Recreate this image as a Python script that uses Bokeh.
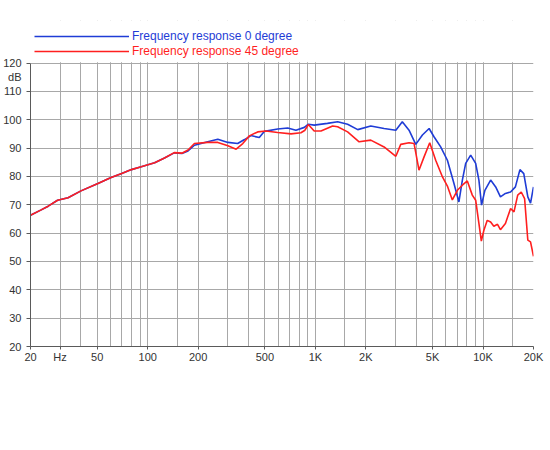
from bokeh.plotting import figure
from bokeh.models import FixedTicker, Range1d, Legend, LegendItem, ColumnDataSource, BoxAnnotation
from bokeh.embed import file_html
from bokeh.resources import INLINE

# ---- data ----
freq_0 = [20, 23, 25.5, 29, 33.5, 40, 50.5, 60.5, 70, 80, 91.5, 110, 126, 144, 160, 174, 190, 228, 262, 301,
          344, 378, 413, 463, 497, 596, 684, 766, 860, 908, 984, 1180, 1358, 1557, 1790, 2140, 2570, 3020, 3300, 3620,
          3970, 4350, 4770, 5100, 5590, 6130, 6710, 7180, 7530, 7880, 8440, 9040, 9450, 9800, 10260, 11100, 11900,
          12700, 13600, 14600, 15600, 16600, 17500, 18500, 19200, 20000]
db_0 = [66.3, 68.1, 69.5, 71.6, 72.5, 74.9, 77.5, 79.6, 81.0, 82.4, 83.4, 84.8, 86.5, 88.3, 88.1, 89.0, 91.0, 92.2, 93.1, 92.0,
        91.6, 93.0, 94.4, 93.7, 95.9, 96.7, 97.1, 96.3, 97.3, 98.4, 98.1, 98.7, 99.3, 98.4, 96.5, 97.8, 96.9, 96.3, 99.3, 96.3,
        91.3, 94.6, 96.9, 94.0, 90.4, 85.7, 77.5, 71.0, 78.7, 84.6, 87.5, 84.6, 78.7, 69.9, 75.1, 78.7, 76.3,
        72.8, 74.0, 74.5, 76.3, 82.4, 81.0, 72.8, 70.6, 76.3]

freq_45 = [20, 23, 25.5, 29, 33.5, 40, 50.5, 60.5, 70, 80, 91.5, 110, 126, 144, 160, 174, 190, 228, 262, 301,
           337, 369, 404, 453, 508, 596, 716, 820, 867, 908, 984, 1080, 1268, 1358, 1557, 1824, 2140, 2570, 3020, 3230,
           3620, 3880, 4150, 4450, 4810, 5220, 5730, 6130, 6560, 7030, 7530, 8060, 8630, 9040, 9450, 9770, 10120, 10600,
           11100, 11600, 12200, 12700, 13600, 14600, 15300, 16100, 16900, 17700, 18500, 19200, 20000]
db_45 = [66.3, 68.1, 69.5, 71.6, 72.5, 74.9, 77.5, 79.6, 81.0, 82.4, 83.4, 84.8, 86.5, 88.4, 88.2, 89.3, 91.6, 92.0, 92.0, 90.8,
         89.6, 91.6, 94.3, 95.7, 96.0, 95.5, 95.0, 95.4, 96.3, 98.3, 96.0, 96.0, 97.8, 97.5, 95.7, 92.2, 92.8, 90.4, 87.1, 91.3,
         91.9, 91.6, 82.2, 86.9, 91.9, 85.7, 79.8, 76.6, 71.7, 75.1, 76.9, 78.4, 73.4, 71.6, 63.4, 57.2, 61.0, 64.5,
         63.9, 62.4, 63.1, 61.2, 63.4, 68.7, 67.5, 73.4, 74.5, 72.2, 57.5, 56.9, 51.8]

series_labels = ["Frequency response 0 degree", "Frequency response 45 degree"]

x_label_ticks = [20, 30, 50, 100, 200, 500, 1000, 2000, 5000, 10000, 20000]
x_label_texts = ["20", "Hz", "50", "100", "200", "500", "1K", "2K", "5K", "10K", "20K"]
x_other_grid = [40, 60, 70, 80, 90, 150, 300, 400, 600, 700, 800, 900, 1500, 3000, 4000,
                6000, 7000, 8000, 9000, 15000]
y_grid_ticks = [20, 30, 40, 50, 60, 70, 80, 90, 100, 110, 120]
y_unit_pos = 115
y_unit_text = "dB"
y_min, y_max = 20, 120

BLUE = "#1f3cd6"
RED = "#ff1f1f"
FONT = "Liberation Sans"
GRID = "#a8a8a8"
AXIS = "#5a5a5a"

# the frame is extended upwards to hold the legend rows above the grid
p = figure(width=546, height=440, x_axis_type="log",
           x_range=Range1d(20, 20000), y_range=Range1d(y_min, 135),
           output_backend="svg", toolbar_location=None,
           min_border_left=21, min_border_right=13, min_border_top=20, min_border_bottom=94)
p.background_fill_color = "white"
p.border_fill_color = "white"
p.outline_line_color = None

src0 = ColumnDataSource(dict(f=freq_0, db=db_0))
src45 = ColumnDataSource(dict(f=freq_45, db=db_45))
r0 = p.line("f", "db", source=src0, line_color=BLUE, line_width=1.6)
r45 = p.line("f", "db", source=src45, line_color=RED, line_width=1.6)

# x axis
p.xaxis.ticker = FixedTicker(ticks=x_label_ticks, minor_ticks=x_other_grid)
p.xaxis.major_label_overrides = {t: s for t, s in zip(x_label_ticks, x_label_texts)}
p.xaxis.major_tick_out = 3
p.xaxis.major_tick_in = 0
p.xaxis.minor_tick_out = 0
p.xaxis.minor_tick_in = 0
p.xaxis.major_label_standoff = 1
p.xaxis.axis_line_color = AXIS
p.xaxis.major_tick_line_color = AXIS
p.xaxis.major_label_text_font = FONT
p.xaxis.major_label_text_font_size = "11px"
p.xaxis.major_label_text_color = "#333333"

p.xgrid.grid_line_color = GRID
p.xgrid.minor_grid_line_color = GRID
p.xgrid.grid_line_width = 1
p.xgrid.minor_grid_line_width = 1

# y axis
yt = dict(zip(y_grid_ticks, [str(v) for v in y_grid_ticks]))
yt[y_unit_pos] = y_unit_text
p.yaxis.ticker = FixedTicker(ticks=y_grid_ticks + [y_unit_pos], minor_ticks=y_grid_ticks)
p.yaxis.bounds = (y_min, y_max)
p.yaxis.major_label_overrides = yt
p.yaxis.major_tick_out = 0
p.yaxis.major_tick_in = 0
p.yaxis.minor_tick_out = 4
p.yaxis.minor_tick_in = 0
p.yaxis.major_label_standoff = 5
p.yaxis.axis_line_color = AXIS
p.yaxis.minor_tick_line_color = AXIS
p.yaxis.major_label_text_font = FONT
p.yaxis.major_label_text_font_size = "11px"
p.yaxis.major_label_text_color = "#333333"

p.ygrid.ticker = FixedTicker(ticks=y_grid_ticks)
p.ygrid.grid_line_color = GRID
p.ygrid.grid_line_width = 1

# blank band above the 120 dB grid line (hides the vertical grid lines there)
p.add_layout(BoxAnnotation(bottom=y_max + 0.25, fill_color="white", fill_alpha=1.0,
                           line_color=None))

# legends: two single-row legends in the band above the grid
for r, lab, col, top in [(r0, series_labels[0], BLUE, 303), (r45, series_labels[1], RED, 288)]:
    lg = Legend(items=[LegendItem(label=lab, renderers=[r])],
                location=(4, top), orientation="vertical",
                glyph_width=95, glyph_height=14, label_height=14,
                label_standoff=3, margin=0, padding=0, spacing=0,
                border_line_color=None, background_fill_alpha=0,
                label_text_font=FONT, label_text_font_size="12px",
                label_text_color=col)
    p.add_layout(lg, "center")

open("out.html", "w").write(file_html(p, INLINE))
